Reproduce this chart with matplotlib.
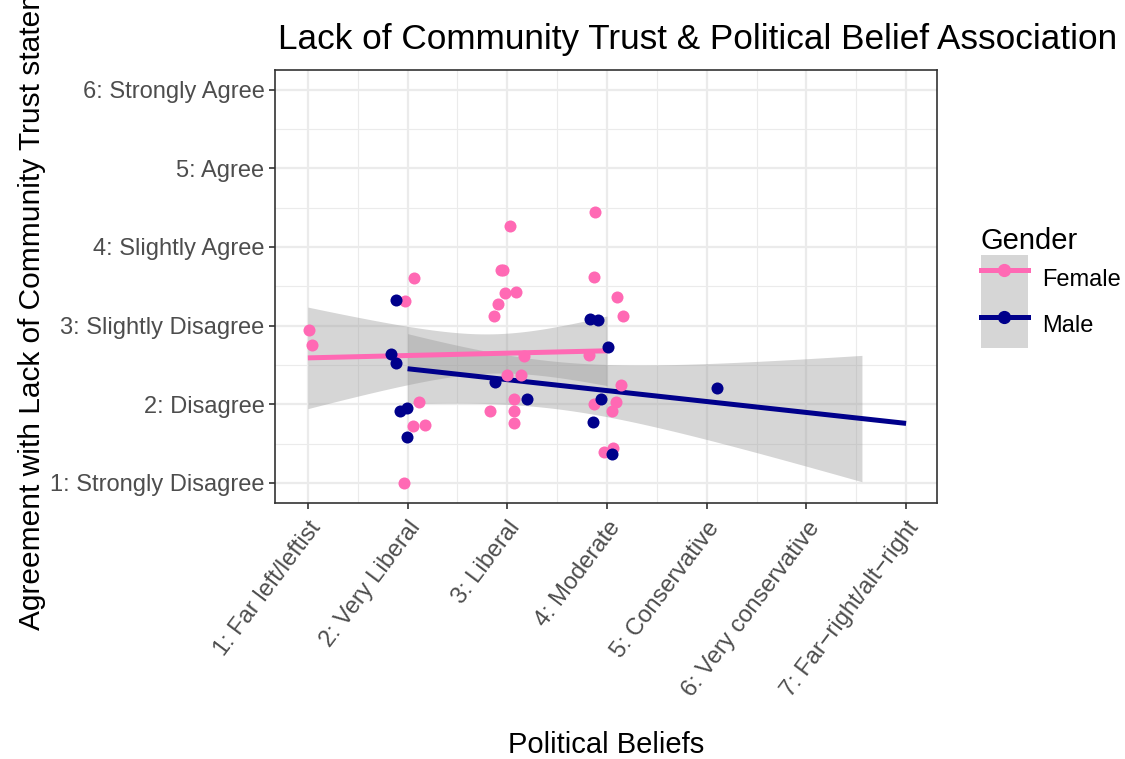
import numpy as np
import matplotlib.pyplot as plt
from matplotlib.lines import Line2D
from matplotlib.patches import Patch

plt.rcParams['font.family'] = ['Liberation Sans', 'DejaVu Sans']

x_labels = ['1: Far left/leftist', '2: Very Liberal', '3: Liberal', '4: Moderate',
            '5: Conservative', '6: Very conservative', '7: Far\u2212right/alt\u2212right']
y_labels = ['1: Strongly Disagree', '2: Disagree', '3: Slightly Disagree',
            '4: Slightly Agree', '5: Agree', '6: Strongly Agree']

# jittered positions
female_x = [1.01, 1.04,
            2.06, 1.97, 2.11, 2.05, 2.17, 1.96,
            3.03, 2.94, 2.96, 3.09, 2.98, 2.91, 2.87, 3.17, 3.00, 3.14, 3.07, 2.83, 3.07, 3.07,
            3.88, 3.87, 4.10, 4.16, 3.82, 4.14, 3.87, 4.09, 4.05, 4.06, 3.97]
female_y = [2.95, 2.76,
            3.60, 3.31, 2.03, 1.73, 1.74, 1.00,
            4.27, 3.71, 3.71, 3.43, 3.41, 3.27, 3.12, 2.61, 2.37, 2.37, 2.07, 1.92, 1.92, 1.76,
            4.44, 3.62, 3.37, 3.12, 2.63, 2.25, 2.00, 2.03, 1.91, 1.45, 1.39]
male_x = [1.88, 1.83, 1.88, 1.99, 1.92, 1.99,
          2.88, 3.20,
          3.83, 3.91, 4.01, 3.94, 3.86, 4.05,
          5.10]
male_y = [3.33, 2.64, 2.53, 1.95, 1.91, 1.58,
          2.28, 2.07,
          3.09, 3.07, 2.73, 2.07, 1.77, 1.37,
          2.21]

# lm smooth: x range, intercept, slope, centre, se terms
female_fit = dict(x0=1, x1=4, a=2.56, b=0.03, m=2.86, c0=0.25, c1=0.32)
male_fit = dict(x0=2, x1=7, a=2.73, b=-0.139, m=3.40, c0=0.30, c1=0.236)

pink = '#FF69B4'
navy = '#00008B'

fig = plt.figure(figsize=(11.25, 7.59), dpi=100)
ax = fig.add_axes([0.2444, 0.3378, 0.5885, 0.5700])


def smooth(p, color):
    xx = np.linspace(p['x0'], p['x1'], 80)
    fit = p['a'] + p['b'] * xx
    h = np.sqrt(p['c0'] ** 2 + (p['c1'] * (xx - p['m'])) ** 2)
    lo, hi = fit - h, fit + h
    ok = (lo >= 1) & (hi <= 6)   # ribbon dropped outside the y limits, like ggplot
    ax.fill_between(xx[ok], lo[ok], hi[ok], color='#999999', alpha=0.4, lw=0, zorder=2)
    ax.plot(xx, fit, color=color, lw=3.6, zorder=3, solid_capstyle='butt')


smooth(female_fit, pink)
smooth(male_fit, navy)

ax.scatter(female_x, female_y, s=75, color=pink, zorder=4, lw=0)
ax.scatter(male_x, male_y, s=75, color=navy, zorder=4, lw=0)

ax.set_xlim(0.67, 7.31)
ax.set_ylim(0.75, 6.25)
ax.set_xticks(range(1, 8))
ax.set_xticklabels(x_labels, rotation=53, ha='right', va='top', rotation_mode='anchor',
                   fontsize=17, color='#4D4D4D')
ax.set_yticks(range(1, 7))
ax.set_yticklabels(y_labels, fontsize=17, color='#4D4D4D')
ax.set_xticks(np.arange(1.5, 7.5, 1), minor=True)
ax.set_yticks(np.arange(1.5, 6.5, 1), minor=True)
ax.tick_params(which='major', length=4.5, width=1.2, color='#333333', pad=3)
ax.tick_params(axis='x', which='major', pad=6)
ax.tick_params(which='minor', length=0)
ax.grid(which='major', color='#EBEBEB', lw=1.6, zorder=0)
ax.grid(which='minor', color='#EBEBEB', lw=0.8, zorder=0)
ax.set_axisbelow(True)
for sp in ax.spines.values():
    sp.set_color('#333333')
    sp.set_linewidth(1.2)

ax.set_xlabel('Political Beliefs', fontsize=21, labelpad=22)
ax.set_ylabel('Agreement with Lack of Community Trust statement', fontsize=21.5, labelpad=3)
ax.set_title('Lack of Community Trust & Political Belief Association', fontsize=25.3,
             loc='left', y=1.0, pad=15, x=0.005)

handles = [(Patch(facecolor='#D6D6D6', edgecolor='none'),
            Line2D([], [], color=pink, lw=3.6, marker='o', markersize=8.5)),
           (Patch(facecolor='#D6D6D6', edgecolor='none'),
            Line2D([], [], color=navy, lw=3.6, marker='o', markersize=8.5))]
leg = fig.legend(handles, ['Female', 'Male'], title='Gender', loc='center left',
                 bbox_to_anchor=(0.8444, 0.621), frameon=False, fontsize=17,
                 title_fontsize=21, handlelength=2.0, handleheight=2.65,
                 labelspacing=0, handletextpad=0.6, borderaxespad=0, borderpad=1.3)
leg._legend_box.align = 'left'

fig.savefig('out.png', dpi=100)
